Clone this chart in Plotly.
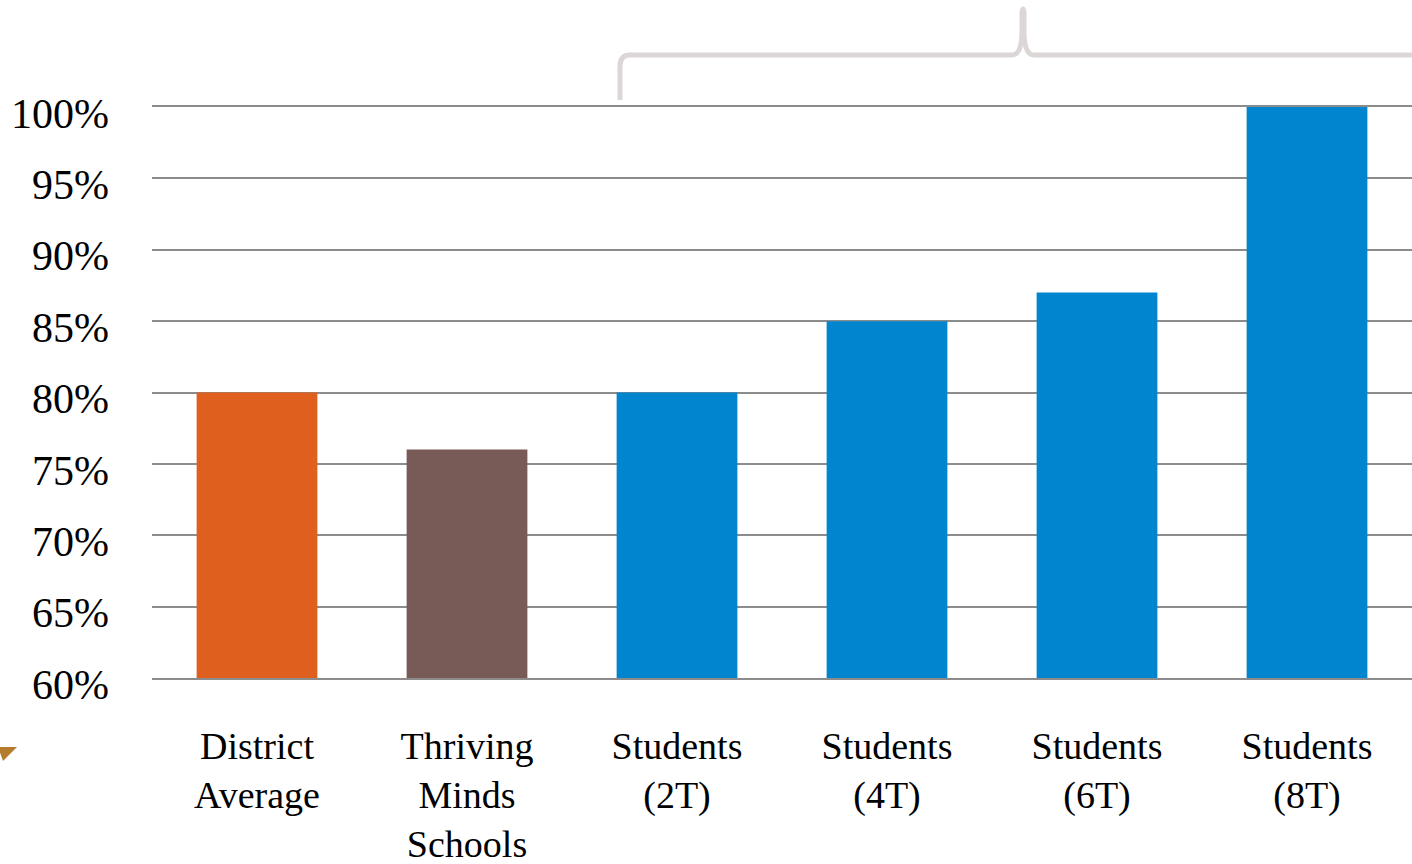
import plotly.graph_objects as go

categories = ["District<br>Average", "Thriving<br>Minds<br>Schools", "Students<br>(2T)",
              "Students<br>(4T)", "Students<br>(6T)", "Students<br>(8T)"]
values = [80, 76, 80, 85, 87, 100]
colors = ["#DE5F1E", "#785A56", "#0085CE", "#0085CE", "#0085CE", "#0085CE"]
y_ticks = [60, 65, 70, 75, 80, 85, 90, 95, 100]
y_tick_labels = [f"{v}%" for v in y_ticks]

W, H = 1412, 864
L, R, T, B = 152, 0, 107, 186
pw, ph = W - L - R, H - T - B

def px(x):
    return (x - L) / pw

def py(y):
    return (H - B - y) / ph

fig = go.Figure(go.Bar(x=categories, y=values, marker=dict(color=colors, line=dict(width=0)),
                       width=0.575))

# brace path in pixel coords converted to paper
pts = [
    ("M", 620, 100), ("L", 620, 66), ("Q", 620, 55, 630, 55), ("L", 1012, 55),
    ("Q", 1022, 55, 1022, 30), ("L", 1022, 12), ("Q", 1023, 6, 1024, 12), ("L", 1024, 30),
    ("Q", 1024, 55, 1034, 55), ("L", 1420, 55),
]
path = ""
for p in pts:
    cmd = p[0]
    coords = p[1:]
    s = " ".join(f"{px(coords[i]):.5f},{py(coords[i+1]):.5f}" for i in range(0, len(coords), 2))
    path += f"{cmd}{s} "

shapes = [
    dict(type="path", xref="paper", yref="paper", path=path.strip(),
         line=dict(color="#DCD6D6", width=5), layer="above"),
    dict(type="path", xref="paper", yref="paper",
         path=f"M{px(-2):.5f},{py(747):.5f} L{px(17):.5f},{py(747):.5f} L{px(3):.5f},{py(761):.5f} Z",
         fillcolor="#B47C2C", line=dict(width=0)),
]

fig.update_layout(
    width=W, height=H,
    margin=dict(l=L, r=R, t=T, b=B, pad=0, autoexpand=False),
    paper_bgcolor="white", plot_bgcolor="white",
    showlegend=False,
    bargap=0.425,
    font=dict(family="Liberation Serif, Times New Roman, serif", color="#000000"),
    shapes=shapes,
    xaxis=dict(
        type="category", showgrid=False, zeroline=False, automargin=False,
        showline=True, linecolor="#8C8C8C", linewidth=2, mirror=True,
        ticks="", tickfont=dict(size=38), ticklabelstandoff=33,
    ),
    yaxis=dict(
        range=[60, 100], tickvals=y_ticks, ticktext=y_tick_labels, automargin=False,
        showgrid=True, gridcolor="#8C8C8C", gridwidth=2, zeroline=False,
        showline=False, ticks="", tickfont=dict(size=42), ticklabelstandoff=42,
        ticklabelshift=6, fixedrange=True,
    ),
)

fig.write_html("out.html")
